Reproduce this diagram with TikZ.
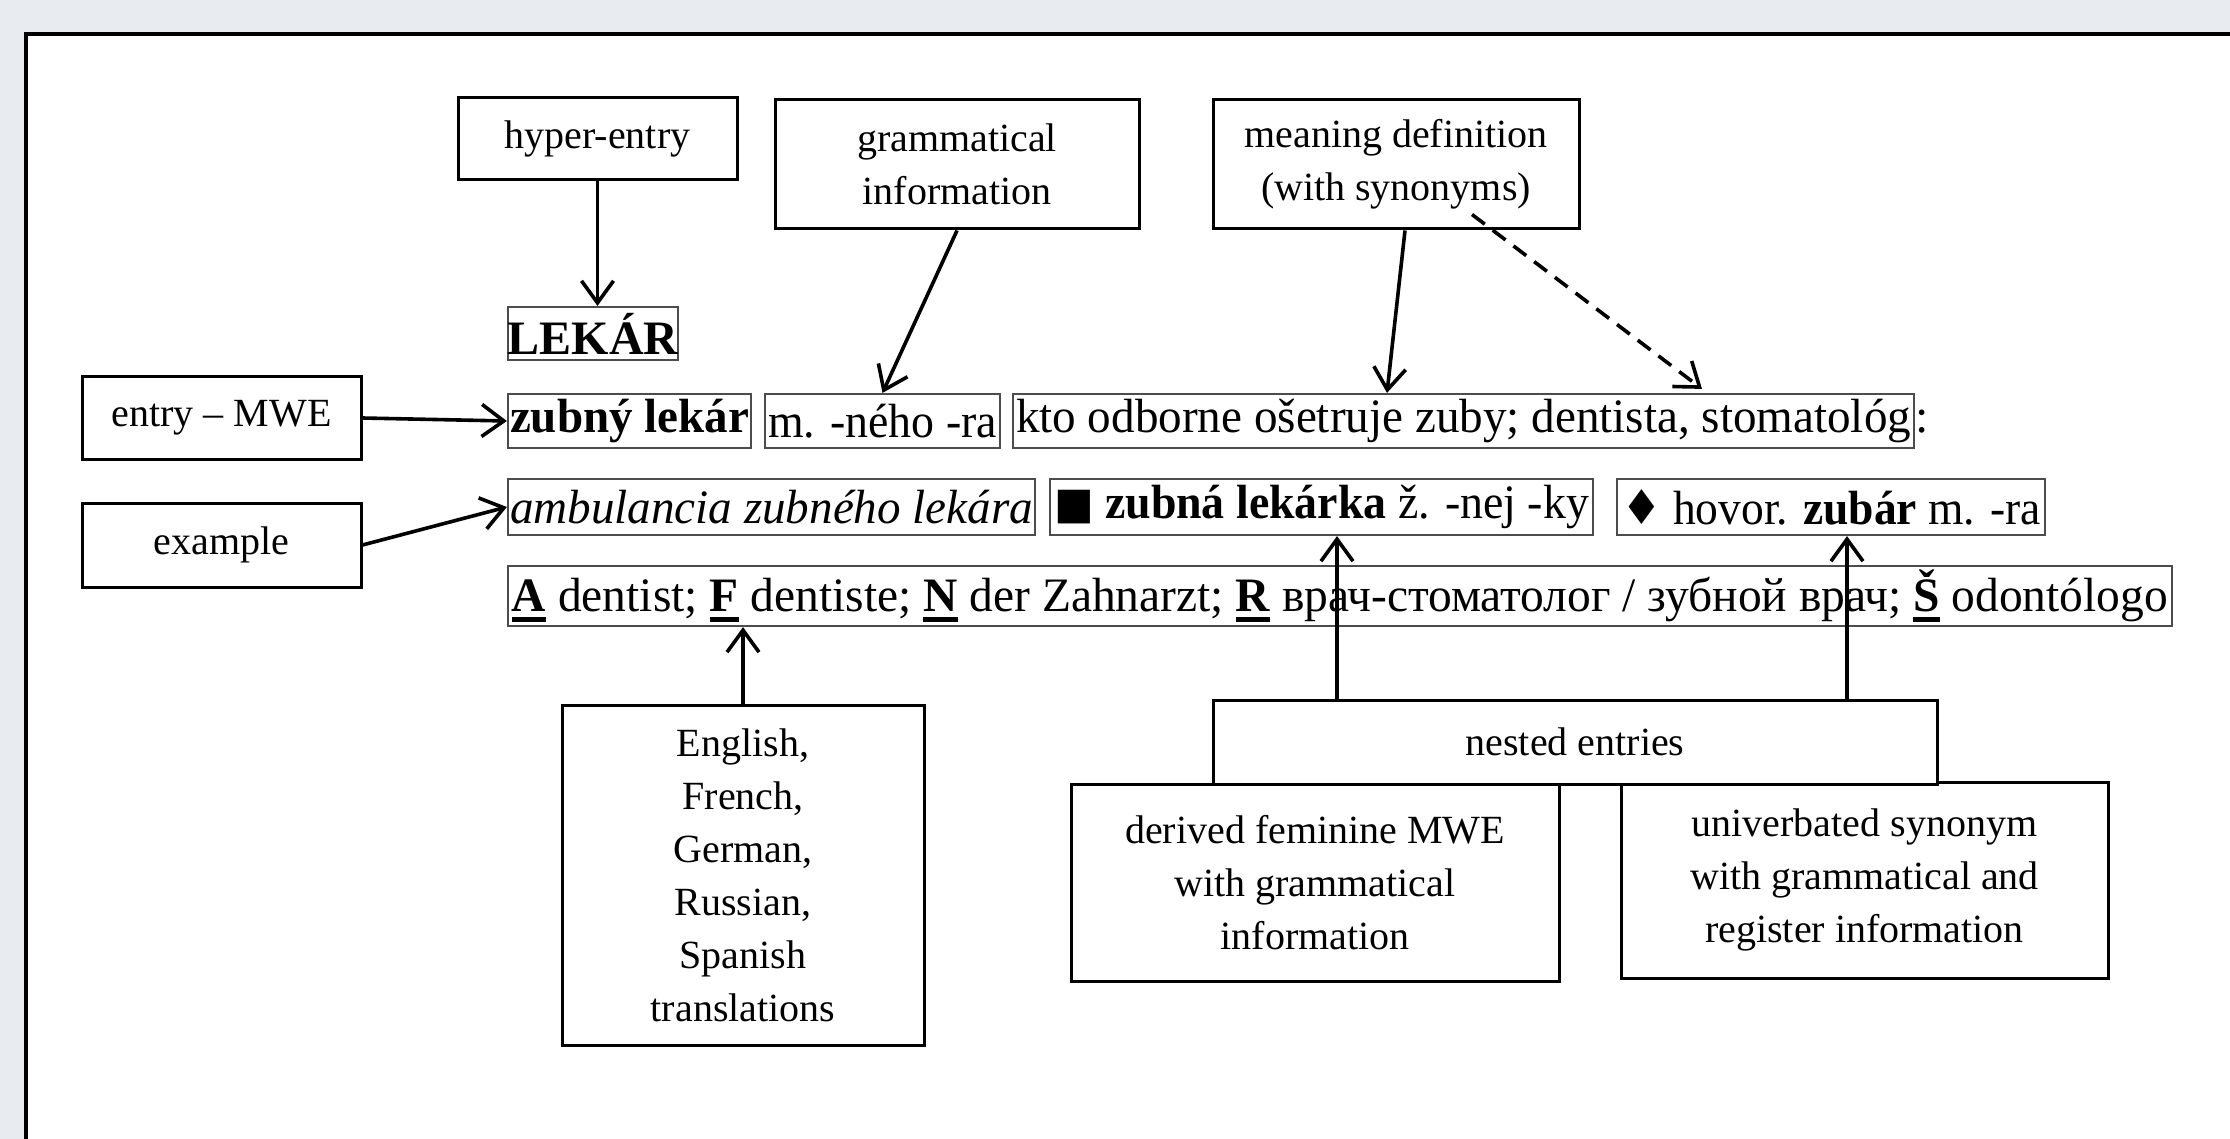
\documentclass[tikz,border=0pt]{standalone}
\usepackage{fontspec}
\setmainfont{Liberation Serif}
\newfontfamily\symf{DejaVu Sans}
\usetikzlibrary{arrows.meta,calc}
\definecolor{bgc}{RGB}{232,235,240}
\newcommand\ulb[1]{\setbox0=\hbox{\bfseries #1}\rlap{\rule[-10pt]{\wd0}{5pt}}\box0\relax}
\tikzset{
  lbl/.style={draw=black, line width=3pt, inner sep=0pt, align=center,
    font=\fontsize{40}{53}\selectfont, fill=white},
  rowbox/.style={draw=black!70, line width=2.2pt, inner sep=0pt,
    font=\fontsize{48}{58}\selectfont},
  arr/.style={line width=3.6pt, -{Straight Barb[length=22pt,width=32pt]}},
  darr/.style={arr, dash pattern=on 16pt off 10pt},
}
\begin{document}
\begin{tikzpicture}[x=1pt,y=-1pt]
\clip (0,0) rectangle (2230,1139);
\fill[bgc] (0,0) rectangle (2230,1139);
\draw[line width=3.5pt, fill=white] (26,34) rectangle (2270,1180);

% label boxes
\node[lbl, minimum width=279pt, minimum height=82pt] (hyper) at (597.5,139) {hyper-entry};
\node[lbl, minimum width=364pt, minimum height=129pt] (gram) at (957,164.5) {grammatical\\information};
\node[lbl, minimum width=366pt, minimum height=129pt] (mean) at (1396,164.5) {meaning definition\\(with synonyms)};
\node[lbl, minimum width=279pt, minimum height=82pt] (emwe) at (221.5,418) {entry -- MWE};
\node[lbl, minimum width=279pt, minimum height=84pt] (ex) at (221.5,545) {example};

% dictionary entry
\node[rowbox, minimum width=170pt, minimum height=53pt] (lekar) at (593,333.5) {\bfseries LEKÁR};
\node[rowbox, minimum width=243pt, minimum height=54pt] (zl) at (629.5,421) {\resizebox{239pt}{\height}{\bfseries zubný lekár}};
\node[rowbox, minimum width=235pt, minimum height=54pt] (gr) at (882.5,421) {\resizebox{229pt}{\height}{m. -ného -ra}};
\node[rowbox, minimum width=901pt, minimum height=54pt] (kto) at (1463.5,421) {\resizebox{895pt}{\height}{kto odborne ošetruje zuby; dentista, stomatológ}};
\node[font=\fontsize{48}{58}\selectfont, inner sep=0pt, anchor=base west] (colon) at (kto.base -| kto.east) {:};
\node[rowbox, minimum width=527pt, minimum height=56pt] (amb) at (771.5,507) {\resizebox{523pt}{\height}{\itshape ambulancia zubného lekára}};
\node[rowbox, minimum width=543pt, minimum height=56pt] (zub) at (1321.5,507) {\resizebox{535pt}{\height}{{\symf\fontsize{44}{48}\selectfont ■} \bfseries zubná lekárka \mdseries ž. -nej -ky}};
\node[rowbox, minimum width=428pt, minimum height=56pt] (hov) at (1831,507) {\resizebox{420pt}{\height}{{\symf ♦} hovor. \textbf{zubár} m. -ra}};
\node[rowbox, minimum width=1664pt, minimum height=60pt] (tr) at (1340,596) {\resizebox{1656pt}{\height}{\ulb{A} dentist; \ulb{F} dentiste; \ulb{N} der Zahnarzt; \ulb{R} врач-стоматолог / зубной врач; \ulb{Š} odontólogo}};

% lower label boxes
\node[lbl, minimum width=362pt, minimum height=340pt] (eng) at (743,875) {English,\\French,\\German,\\Russian,\\Spanish\\translations};
\node[lbl, minimum width=488pt, minimum height=197pt] (der) at (1315,882.5) {derived feminine MWE\\with grammatical\\information};
\node[lbl, minimum width=487pt, minimum height=196pt] (uni) at (1864.5,880) {univerbated synonym\\with grammatical and\\register information};
\node[lbl, minimum width=724pt, minimum height=84pt] (nest) at (1575,742) {nested entries};

% connectors
\draw[arr] (hyper.south) -- (hyper.south |- lekar.north);
\draw[arr] (gram.south) -- (gr.north);
\draw[arr] ([xshift=9pt]mean.south) -- ([xshift=-76.5pt]kto.north);
\draw[darr] ([xshift=76pt,yshift=16pt]mean.south) -- ([xshift=238.5pt,yshift=4pt]kto.north);
\draw[arr] (emwe.east) -- (zl.west);
\draw[arr] (ex.east) -- (amb.west);
\draw[arr] (eng.north) -- (eng.north |- tr.south);
\coordinate (nl) at ([xshift=-238pt]nest.north);
\coordinate (nr) at ([xshift=272pt]nest.north);
\draw[arr] (nl) -- (nl |- zub.south);
\draw[arr] (nr) -- (nr |- hov.south);
\end{tikzpicture}
\end{document}
